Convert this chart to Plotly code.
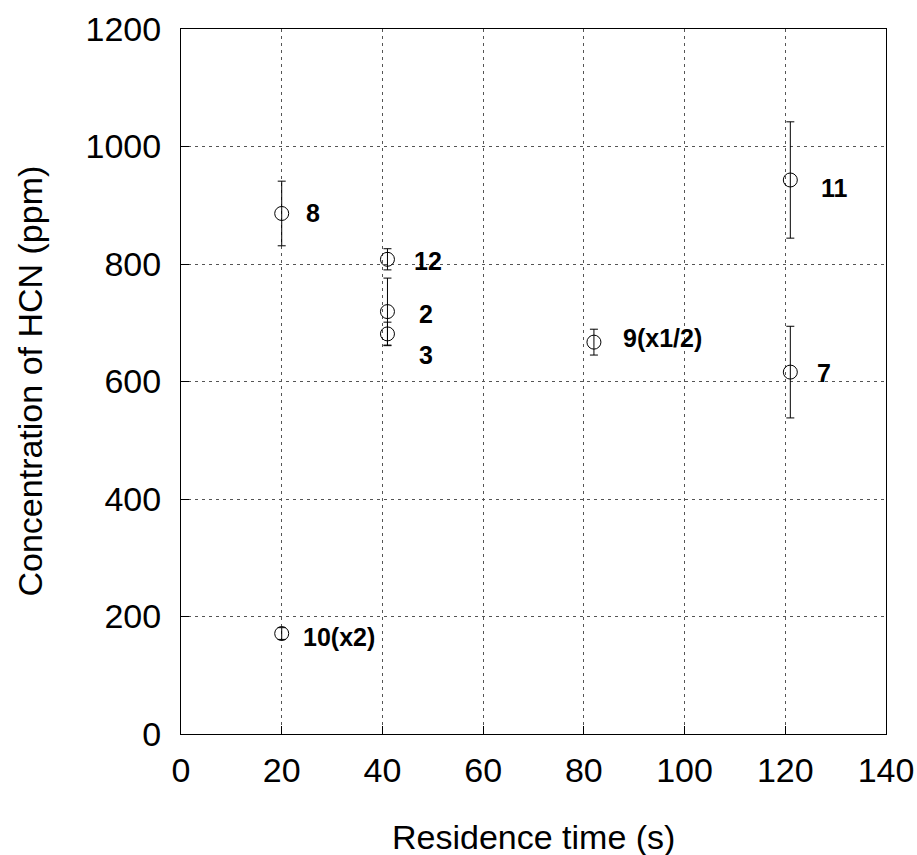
import plotly.graph_objects as go

# Measured HCN concentration versus residence time, one entry per run
run_labels = ["8", "10(x2)", "12", "2", "3", "9(x1/2)", "11", "7"]
residence_time = [20, 20, 41, 41, 41, 82, 121, 121]
hcn_ppm = [886, 171, 808, 719, 681, 667, 943, 616]
hcn_err = [55, 10, 18, 57, 20, 22, 99, 78]

# Per-label pixel offsets (right, up) from each marker
label_dx = [22, 19, 25, 30, 30, 27, 29, 25]
label_dy = [0, -3, -2, -2, -21, 4, -8, -1]

x_ticks = [0, 20, 40, 60, 80, 100, 120, 140]
y_ticks = [0, 200, 400, 600, 800, 1000, 1200]

FONT = "Liberation Sans, Arial, Helvetica, sans-serif"

fig = go.Figure()
fig.add_trace(go.Scatter(
    x=residence_time,
    y=hcn_ppm,
    mode="markers",
    marker=dict(symbol="circle-open", size=14, color="black", line=dict(width=1, color="black")),
    error_y=dict(type="data", array=hcn_err, visible=True, color="black", thickness=1, width=4),
    showlegend=False,
    hoverinfo="x+y",
))

for lab, xv, yv, dx, dy in zip(run_labels, residence_time, hcn_ppm, label_dx, label_dy):
    fig.add_annotation(
        x=xv, y=yv, xref="x", yref="y", text=f"<b>{lab}</b>",
        showarrow=False, xanchor="left", yanchor="middle",
        xshift=dx, yshift=dy,
        font=dict(family=FONT, size=25, color="black"),
    )

# Axis titles
fig.add_annotation(
    x=0.5, y=0, xref="paper", yref="paper", text="Residence time (s)",
    showarrow=False, xanchor="center", yanchor="middle", yshift=-103,
    font=dict(family=FONT, size=34, color="black"),
)
fig.add_annotation(
    x=0, y=0.5, xref="paper", yref="paper", text="Concentration of HCN (ppm)",
    showarrow=False, xanchor="center", yanchor="middle", xshift=-152, textangle=-90,
    font=dict(family=FONT, size=34, color="black"),
)

axis_common = dict(
    showline=True, linecolor="black", linewidth=1, mirror=True,
    showgrid=True, gridcolor="#555555", gridwidth=1, griddash="3px,4px",
    ticks="inside", ticklen=8, tickcolor="black", tickwidth=1,
    tickfont=dict(family=FONT, size=34, color="black"),
    zeroline=False,
)

fig.update_xaxes(range=[0, 140], tickvals=x_ticks, ticklabelstandoff=6, **axis_common)
fig.update_yaxes(range=[0, 1200], tickvals=y_ticks, ticklabelstandoff=12, **axis_common)

fig.update_layout(
    width=917, height=855,
    margin=dict(l=181, r=31, t=29, b=121, autoexpand=False),
    plot_bgcolor="white", paper_bgcolor="white",
    font=dict(family=FONT, color="black"),
)

fig.write_html("out.html")
